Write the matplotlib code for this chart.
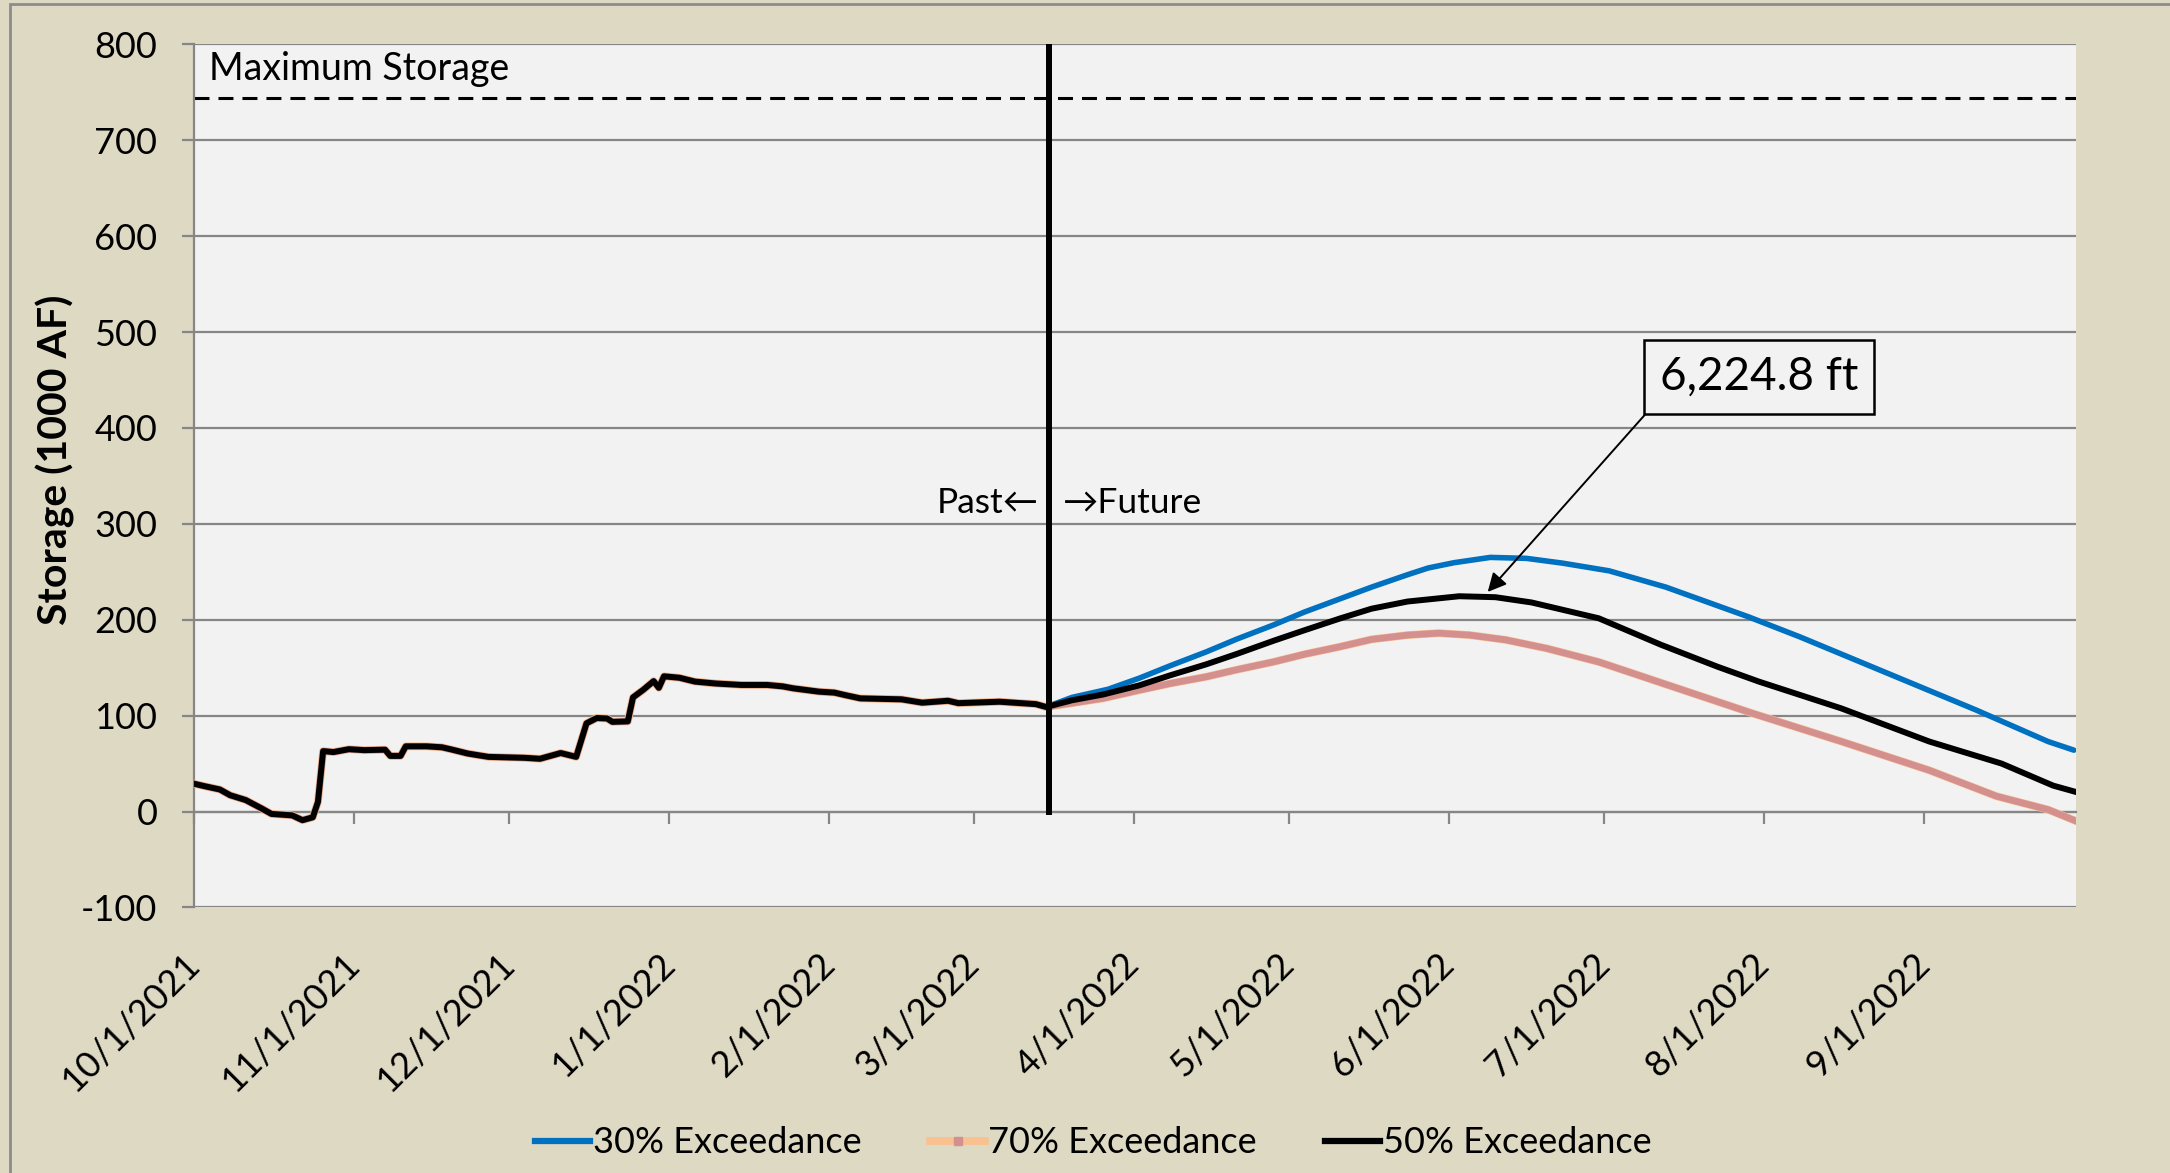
import numpy as np
import pandas as pd
import matplotlib
matplotlib.use("Agg")
import matplotlib.pyplot as plt
import matplotlib.dates as mdates
from matplotlib.lines import Line2D
from matplotlib.patches import Rectangle

plt.rcParams['font.family'] = ['Lato', 'DejaVu Sans']
plt.rcParams['axes.unicode_minus'] = False

# observed storage (1000 AF), shared by all three traces up to "today"
hist_dates = ['2021-10-01', '2021-10-03', '2021-10-06', '2021-10-08', '2021-10-11',
              '2021-10-14', '2021-10-16', '2021-10-20', '2021-10-22', '2021-10-24',
              '2021-10-25', '2021-10-26', '2021-10-28', '2021-10-31', '2021-11-03',
              '2021-11-07', '2021-11-08', '2021-11-10', '2021-11-11', '2021-11-15',
              '2021-11-18', '2021-11-20', '2021-11-23', '2021-11-27', '2021-12-04',
              '2021-12-07', '2021-12-11', '2021-12-14', '2021-12-16', '2021-12-18',
              '2021-12-20', '2021-12-21', '2021-12-24', '2021-12-25', '2021-12-27',
              '2021-12-29', '2021-12-30', '2021-12-31', '2022-01-03', '2022-01-06',
              '2022-01-10', '2022-01-15', '2022-01-20', '2022-01-23', '2022-01-25',
              '2022-01-30', '2022-02-02', '2022-02-04', '2022-02-07', '2022-02-15',
              '2022-02-19', '2022-02-24', '2022-02-26', '2022-03-06', '2022-03-13',
              '2022-03-15']
hist_values = [29, 26.5, 23, 17, 12,
               3.5, -2.5, -4, -9, -6,
               10, 63, 62, 65, 64,
               64.5, 58, 58, 68, 68,
               67, 64.5, 60.5, 57, 56,
               55, 61, 57, 92, 97.5,
               97, 93.5, 94, 119, 127,
               136, 129, 141, 139.5, 135.5,
               133.5, 132, 132, 130.5, 128.5,
               125, 124, 121.5, 118, 117,
               113.5, 115.5, 113, 114.5, 112,
               109]

# forecasts
f30_dates = ['2022-03-20', '2022-03-27', '2022-04-02', '2022-04-08', '2022-04-15',
             '2022-04-21', '2022-04-28', '2022-05-04', '2022-05-11', '2022-05-17',
             '2022-05-24', '2022-05-28', '2022-06-02', '2022-06-09', '2022-06-16',
             '2022-06-23', '2022-07-02', '2022-07-13', '2022-07-29', '2022-08-08',
             '2022-08-25', '2022-09-11', '2022-09-25', '2022-09-30']
f30_values = [119, 127.5, 139, 152, 166.5,
              180, 194.5, 208, 222, 234,
              247, 254, 259.5, 265, 264,
              259, 251, 234, 203, 182,
              144, 106, 73, 64]

f70_dates = ['2022-03-20', '2022-03-26', '2022-04-02', '2022-04-08', '2022-04-15',
             '2022-04-21', '2022-04-28', '2022-05-04', '2022-05-11', '2022-05-17',
             '2022-05-24', '2022-05-30', '2022-06-05', '2022-06-12', '2022-06-20',
             '2022-06-30', '2022-07-15', '2022-07-30', '2022-08-16', '2022-09-02',
             '2022-09-15', '2022-09-25', '2022-09-30']
f70_values = [113, 118, 126.5, 133.5, 140.5,
              148, 156, 164, 172, 179.5,
              184, 186, 184, 179, 170,
              156, 129, 102, 73, 43,
              16, 2, -9]

f50_dates = ['2022-03-20', '2022-03-26', '2022-04-02', '2022-04-08', '2022-04-15',
             '2022-04-21', '2022-04-28', '2022-05-04', '2022-05-11', '2022-05-17',
             '2022-05-24', '2022-06-03', '2022-06-10', '2022-06-17', '2022-06-30',
             '2022-07-12', '2022-07-23', '2022-07-31', '2022-08-16', '2022-09-02',
             '2022-09-16', '2022-09-26', '2022-09-30']
f50_values = [116, 122, 131.5, 142, 153.5,
              164.5, 178, 189, 201.5, 211.5,
              219, 224.5, 223.5, 218, 201.5,
              174, 151, 135.5, 107.5, 73,
              50, 27, 21]

max_storage = 744
today = '2022-03-15 12:00'
month_ticks = pd.date_range('2021-10-01', '2022-09-01', freq='MS')
tick_labels = [f'{d.month}/{d.day}/{d.year}' for d in month_ticks]

BLUE = '#0070C0'
PINK = '#D4908F'
PEACH = '#FAC090'
GRID = '#868686'

fig = plt.figure(figsize=(21.7, 11.73), dpi=100, facecolor='#DDD9C3')
ax = fig.add_axes([0.0894, 0.2264, 0.8673, 0.7358], facecolor='#F2F2F2')

def series(fd, fv):
    return pd.to_datetime(hist_dates + fd), hist_values + fv

d30, v30 = series(f30_dates, f30_values)
d70, v70 = series(f70_dates, f70_values)
d50, v50 = series(f50_dates, f50_values)

ax.plot(d30, v30, color=BLUE, lw=4.0, solid_capstyle='round', zorder=3)
ax.plot(d70, v70, color=PEACH, lw=5.6, zorder=3)
ax.plot(d70, v70, color=PINK, lw=4.8, zorder=3)
ax.plot(d50, v50, color='black', lw=4.3, zorder=4)

# max storage and past/future divider
ax.axhline(max_storage, color='black', lw=2.2, dashes=(4.9, 2.95), zorder=2)
ax.text(0.008, max_storage + 19, 'Maximum Storage', transform=ax.get_yaxis_transform(),
        fontsize=27, va='baseline', ha='left')
t = mdates.date2num(pd.Timestamp(today))
ax.plot([t, t], [0, 800], color='black', lw=4.3, zorder=5)
ax.annotate('Past\u2190', xy=(t, 322), xytext=(-7, 0), textcoords='offset points',
            ha='right', va='center', fontsize=25.5)
ax.annotate('\u2192Future', xy=(t, 322), xytext=(10, 0), textcoords='offset points',
            ha='left', va='center', fontsize=25.5)

# elevation callout
ax.annotate('6,224.8 ft', xy=(mdates.date2num(pd.Timestamp('2022-06-08 12:00')), 229),
            xytext=(mdates.date2num(pd.Timestamp('2022-07-31')), 453),
            fontsize=33, ha='center', va='center',
            bbox=dict(boxstyle='square,pad=0.35', fc='#F2F2F2', ec='black', lw=1.8),
            arrowprops=dict(arrowstyle='-|>', color='black', lw=1.4, mutation_scale=28,
                            relpos=(0, 0), shrinkA=0, shrinkB=0), zorder=6)

# axes
ax.set_xlim(pd.Timestamp('2021-10-01'), pd.Timestamp('2022-09-30 10:00'))
ax.set_ylim(-100, 800)
ax.set_yticks(range(-100, 801, 100))
ax.grid(axis='y', color=GRID, lw=1.6)
ax.set_axisbelow(True)
for s in ['top', 'right']:
    ax.spines[s].set_visible(False)
ax.spines['left'].set_color(GRID)
ax.spines['left'].set_linewidth(1.6)
ax.spines['bottom'].set_position(('data', 0))
ax.spines['bottom'].set_color(GRID)
ax.spines['bottom'].set_linewidth(1.6)
ax.set_xticks(month_ticks)
ax.tick_params(axis='x', direction='out', length=8.5, width=1.6, color=GRID, labelbottom=False)
ax.tick_params(axis='y', direction='out', length=8.3, width=1.6, color=GRID, pad=18, labelsize=26)

sec = ax.secondary_xaxis(0.0)
sec.set_xticks(mdates.date2num(month_ticks), labels=tick_labels)
sec.tick_params(length=0, pad=37, labelsize=26)
sec.spines['bottom'].set_visible(False)
for lab in sec.get_xticklabels():
    lab.set_rotation(45)
    lab.set_ha('right')
    lab.set_va('center')
    lab.set_rotation_mode('anchor')

ax.set_ylabel('Storage (1000 AF)', fontsize=29.5, fontweight='bold')
ax.yaxis.set_label_coords(-0.063, 0.519)

handles = [Line2D([], [], color=BLUE, lw=4.5),
           Line2D([], [], color=PEACH, lw=5.5, marker='s', ms=6, mfc=PINK, mec=PINK),
           Line2D([], [], color='black', lw=4.5)]
fig.legend(handles, ['30% Exceedance', '70% Exceedance', '50% Exceedance'],
           loc='center', bbox_to_anchor=(0.504, 0.0256), ncol=3, frameon=False,
           fontsize=26, handlelength=1.5, handletextpad=0.1, columnspacing=1.9)

fig.patches.append(Rectangle((10 / 2170, -0.01), 1.02, 1.01 - 4 / 1173, transform=fig.transFigure,
                             fill=False, edgecolor='#8C8C8C', lw=2))

fig.savefig('out.png', dpi=100, facecolor=fig.get_facecolor())
